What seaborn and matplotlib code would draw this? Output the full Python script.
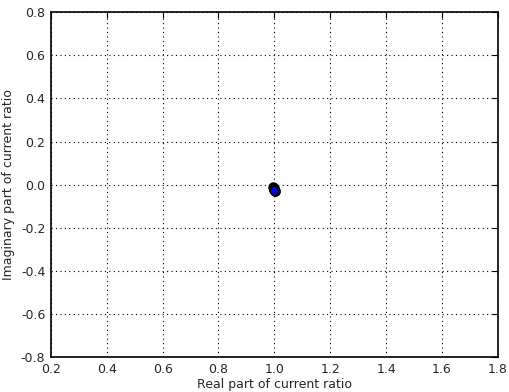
import numpy as np
import pandas as pd
import matplotlib
matplotlib.use("Agg")
import matplotlib.pyplot as plt
import seaborn as sns

# current ratio samples (real / imaginary parts)
real_part = [0.995, 0.997, 0.999, 1.000, 1.002, 1.001, 0.998]
imag_part = [-0.010, -0.014, -0.018, -0.022, -0.028, -0.031, -0.025]

x_ticks = [0.2, 0.4, 0.6, 0.8, 1.0, 1.2, 1.4, 1.6, 1.8]
y_ticks = [-0.8, -0.6, -0.4, -0.2, 0.0, 0.2, 0.4, 0.6, 0.8]

df = pd.DataFrame({"real": real_part, "imag": imag_part})

sns.set_style("white")
plt.rcParams['font.family'] = ['DejaVu Sans']

fig, ax = plt.subplots(figsize=(5.09, 3.92), dpi=100)
sns.scatterplot(x="real", y="imag", data=df, ax=ax, color="blue",
                edgecolor="black", linewidth=1.2, s=40, zorder=3)

ax.set_xlim(0.2, 1.8)
ax.set_ylim(-0.8, 0.8)
ax.set_xticks(x_ticks)
ax.set_yticks(y_ticks)
ax.set_xticklabels([f"{t:.1f}" for t in x_ticks])
ax.set_yticklabels([f"{t:.1f}" for t in y_ticks])
ax.grid(True, linestyle=(0, (1, 3)), color='black', linewidth=0.8)
ax.tick_params(labelsize=9, length=4, color='black', direction='in',
               top=True, right=True, pad=4)
for sp in ax.spines.values():
    sp.set_color('black')
    sp.set_linewidth(1.2)
ax.set_xlabel("Real part of current ratio", fontsize=9, labelpad=2)
ax.set_ylabel("Imaginary part of current ratio", fontsize=9, labelpad=4)

plt.subplots_adjust(left=0.100, right=0.978, top=0.969, bottom=0.089)
plt.savefig("out.png", dpi=100)
